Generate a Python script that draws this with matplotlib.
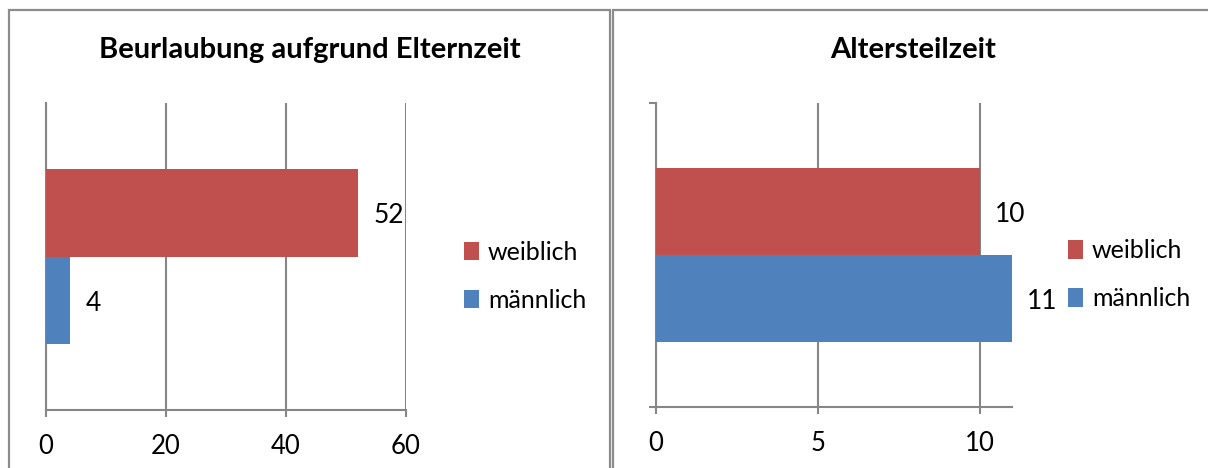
import matplotlib.pyplot as plt
from matplotlib.patches import Rectangle

plt.rcParams["font.family"] = ["Lato", "DejaVu Sans"]

# data
series = ["weiblich", "männlich"]
colors = {"weiblich": "#C0504D", "männlich": "#4F81BD"}

eltern_title = "Beurlaubung aufgrund Elternzeit"
eltern_values = {"weiblich": 52, "männlich": 4}
eltern_ticks = [0, 20, 40, 60]

atz_title = "Altersteilzeit"
atz_values = {"weiblich": 10, "männlich": 11}
atz_ticks = [0, 5, 10]
atz_max = 11

W, H = 1208, 468
GRID = "#868686"

fig = plt.figure(figsize=(W / 100, H / 100), dpi=100)


def px_axes(x0, y0, x1, y1):
    # pixel box (top-left origin) -> figure axes
    return fig.add_axes([x0 / W, 1 - y1 / H, (x1 - x0) / W, (y1 - y0) / H])


# panel frames
for x0, x1 in [(9, 610), (613, 1230)]:
    fig.patches.append(Rectangle((x0 / W, -0.1), (x1 - x0) / W, 1.1 - 10 / H,
                                 transform=fig.transFigure, fill=False,
                                 edgecolor="#8c8c8c", linewidth=1.6))


def draw(ax, values, ticks, xmax, title, title_x, left_ticks, legend_x):
    offsets = {"weiblich": 0.143, "männlich": -0.143}
    for s in series:
        v = values[s]
        ax.barh(offsets[s], v, height=0.286, color=colors[s], label=s, zorder=3)
        ax.annotate(str(v), (v, offsets[s]), xytext=(11, -2),
                    textcoords="offset points", va="center", ha="left",
                    fontsize=19, zorder=4)
    ax.set_xlim(0, xmax)
    ax.set_ylim(-0.5, 0.5)
    ax.set_xticks(ticks)
    ax.xaxis.grid(True, color=GRID, linewidth=1.5, zorder=1)
    for sp in ["top", "right"]:
        ax.spines[sp].set_visible(False)
    ax.spines["bottom"].set_color(GRID)
    ax.spines["bottom"].set_linewidth(1.5)
    ax.spines["left"].set_color(GRID)
    ax.spines["left"].set_linewidth(1.5)
    ax.tick_params(axis="x", colors=GRID, length=5, width=1.5, labelsize=18.5,
                   labelcolor="black", pad=12)
    if left_ticks:
        ax.set_yticks([-0.5, 0.5])
        ax.tick_params(axis="y", colors=GRID, length=5, width=1.5, labelleft=False)
    else:
        ax.set_yticks([])
    ax.set_facecolor("none")
    ax.legend(loc="center left", bbox_to_anchor=(legend_x, 0.435),
              frameon=False, fontsize=18, handlelength=0.6, handleheight=0.75,
              handletextpad=0.35, labelspacing=1.0, borderpad=0)
    fig.text(title_x / W, 1 - 50 / H, title, ha="center", va="center",
             fontsize=21, fontweight="bold")


ax1 = px_axes(46, 103, 406, 410)
draw(ax1, eltern_values, eltern_ticks, 60, eltern_title, 310, False, 1.127)

ax2 = px_axes(656, 103, 1012, 407)
draw(ax2, atz_values, atz_ticks, atz_max, atz_title, 913, True, 1.123)

fig.savefig("out.png", dpi=100)
